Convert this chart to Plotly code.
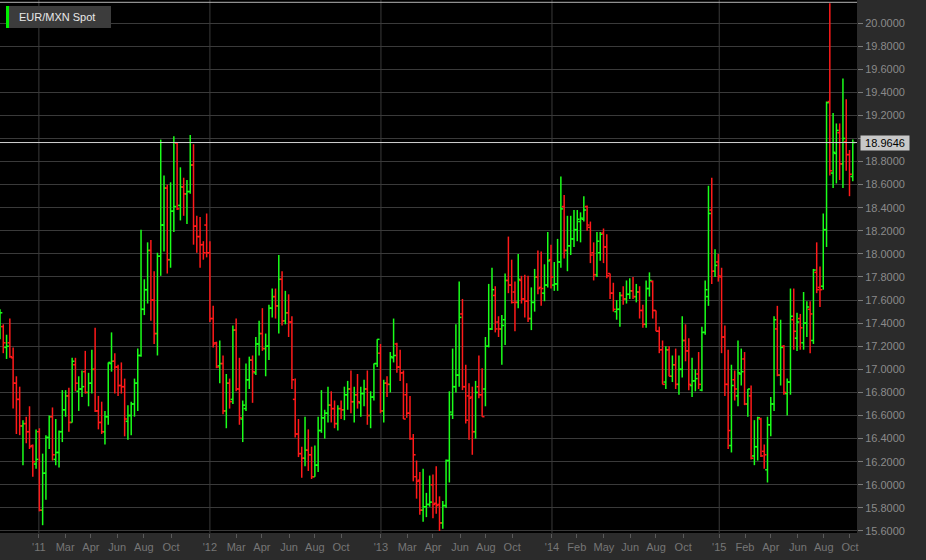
import pandas as pd
import plotly.graph_objects as go

# ---------------- data (weekly EUR/MXN spot) ----------------
start_date = "2010-10-08"

open_ = [
17.30,17.37,17.19,17.23,17.10,16.88,16.74,16.51,16.53,16.46,
16.34,16.18,16.46,15.78,16.10,16.41,16.59,16.22,16.28,16.46,
16.65,16.77,16.54,17.04,16.81,16.83,16.98,16.80,16.88,17.00,
16.64,16.54,16.46,16.59,17.05,17.07,17.02,16.86,16.85,16.55,
16.60,16.70,16.88,17.12,17.52,17.69,18.03,17.60,17.31,17.98,
18.25,18.57,17.95,18.37,18.96,18.42,18.58,18.52,18.54,18.77,
18.24,18.15,18.08,18.25,18.01,17.44,17.23,17.03,17.05,16.64,
16.88,16.74,17.34,16.83,16.57,16.66,16.91,17.08,16.97,17.22,
17.31,17.18,17.20,17.53,17.63,17.55,17.78,17.42,17.49,17.41,
16.74,16.44,16.27,16.23,16.30,16.26,16.07,16.17,16.47,16.58,
16.62,16.69,16.66,16.53,16.66,16.65,16.78,16.83,16.72,16.78,
16.71,16.79,16.83,16.60,16.76,17.05,17.14,16.64,16.88,16.87,
17.10,17.22,17.02,16.97,16.78,16.62,16.40,16.07,16.04,15.78,
15.81,15.83,16.00,15.84,15.83,15.67,15.82,16.21,16.61,16.85,
16.95,17.48,16.85,16.77,16.76,16.46,16.85,16.78,16.83,17.20,
17.35,17.64,17.41,17.35,17.43,17.77,17.73,17.67,17.58,17.77,
17.61,17.59,17.44,17.58,17.80,17.71,17.66,17.73,17.95,17.73,
17.74,17.93,18.41,18.03,18.07,18.13,18.21,18.28,18.30,18.41,
18.23,18.01,17.82,18.01,18.18,18.06,17.83,17.66,17.50,17.52,
17.64,17.61,17.65,17.68,17.63,17.67,17.51,17.39,17.70,17.76,
17.51,17.33,17.17,16.89,17.17,16.94,17.04,16.87,17.00,17.25,
17.16,16.86,16.90,16.96,16.82,17.32,17.63,18.38,17.85,17.93,
17.80,17.28,16.87,16.34,16.91,16.77,16.96,17.09,16.70,16.77,
16.25,16.33,16.57,16.29,16.13,16.52,16.70,17.35,16.95,17.20,
16.79,16.89,17.43,17.27,17.44,17.23,17.40,17.52,17.25,17.84,
17.71,17.72,18.21,19.32,18.70,18.87,19.05,18.78,18.97,18.86,
18.67]

high = [
17.52,17.39,17.30,17.44,17.19,16.94,16.85,16.56,16.59,16.68,
16.35,16.48,16.49,16.27,16.43,16.60,16.67,16.57,16.47,16.82,
16.82,16.84,17.10,17.10,16.94,16.99,17.16,16.97,17.17,17.36,
16.77,16.72,16.64,17.06,17.32,17.14,17.04,17.06,16.92,16.69,
16.72,16.92,17.18,18.21,17.78,18.10,18.12,17.85,18.01,18.99,
18.68,18.60,18.62,19.02,18.97,18.75,18.66,18.64,19.03,18.95,
18.33,18.32,18.11,18.35,18.11,17.55,17.24,17.25,17.12,16.96,
16.92,17.38,17.44,17.10,16.73,17.05,17.11,17.12,17.28,17.42,
17.53,17.31,17.56,17.70,17.70,17.99,17.85,17.68,17.65,17.46,
16.92,16.57,16.33,16.59,16.48,16.33,16.34,16.59,16.82,16.65,
16.85,16.81,16.73,16.69,16.73,16.85,16.90,16.99,16.85,16.96,
16.85,16.91,16.99,16.81,17.05,17.26,17.22,16.91,16.94,17.15,
17.44,17.23,17.17,16.99,16.88,16.77,16.44,16.21,16.11,16.14,
15.93,16.08,16.09,16.16,15.90,15.86,16.22,16.81,17.18,17.39,
17.76,17.61,17.04,16.88,16.85,16.90,17.12,17.01,17.28,17.74,
17.88,17.72,17.46,17.47,17.83,18.15,17.95,17.76,18.00,17.81,
17.82,17.81,17.71,17.87,18.03,18.02,17.91,18.19,18.08,17.93,
18.13,18.67,18.51,18.33,18.33,18.38,18.38,18.36,18.50,18.42,
18.28,18.10,18.19,18.19,18.22,18.17,17.83,17.75,17.60,17.67,
17.72,17.77,17.79,17.80,17.74,17.72,17.56,17.77,17.84,17.77,
17.51,17.37,17.25,17.20,17.20,17.12,17.18,17.12,17.46,17.39,
17.27,17.10,17.00,17.15,17.37,17.77,18.59,18.66,18.04,18.00,
17.88,17.38,17.17,17.04,16.99,17.25,17.18,17.15,16.83,16.86,
16.56,16.59,16.58,16.35,16.59,16.76,17.46,17.55,17.43,17.21,
16.92,17.70,17.70,17.49,17.48,17.67,17.59,17.59,17.87,18.10,
17.89,18.35,19.32,20.17,19.22,19.13,19.13,19.52,19.34,18.90,
18.99]

low = [
17.26,17.14,17.09,17.10,16.66,16.44,16.43,16.17,16.36,16.31,
16.07,16.14,15.77,15.65,15.87,16.31,16.21,16.17,16.15,16.37,
16.59,16.46,16.54,16.81,16.64,16.76,16.79,16.68,16.79,16.63,
16.48,16.44,16.35,16.52,16.98,16.79,16.77,16.79,16.42,16.39,
16.43,16.59,16.64,17.11,17.47,17.57,17.42,17.22,17.12,17.81,
18.02,17.83,17.88,18.19,18.38,18.29,18.33,18.26,18.52,18.08,
18.01,17.88,17.95,17.97,17.41,17.19,17.01,16.88,16.61,16.49,
16.66,16.70,16.81,16.52,16.37,16.64,16.83,16.71,16.95,17.12,
17.16,16.94,17.08,17.45,17.44,17.31,17.38,17.39,17.28,16.83,
16.41,16.24,16.06,16.16,16.12,16.05,16.07,16.11,16.45,16.40,
16.54,16.54,16.49,16.47,16.57,16.56,16.65,16.62,16.54,16.66,
16.59,16.68,16.52,16.49,16.73,17.02,16.62,16.54,16.76,16.80,
17.06,16.97,16.90,16.57,16.58,16.39,16.03,15.88,15.74,15.68,
15.72,15.81,15.71,15.75,15.60,15.62,15.80,16.02,16.57,16.80,
16.85,16.82,16.53,16.39,16.26,16.40,16.75,16.59,16.68,17.19,
17.34,17.32,17.28,17.04,17.21,17.66,17.57,17.33,17.53,17.57,
17.45,17.41,17.34,17.50,17.65,17.55,17.59,17.71,17.70,17.68,
17.68,17.88,17.96,17.85,17.99,18.06,18.11,18.10,18.28,18.20,
17.92,17.77,17.80,17.94,17.92,17.79,17.61,17.50,17.43,17.37,
17.56,17.57,17.61,17.61,17.58,17.44,17.36,17.36,17.63,17.44,
17.33,17.14,16.87,16.83,16.94,16.89,16.83,16.78,16.93,17.07,
16.82,16.76,16.81,16.83,16.81,17.30,17.55,17.74,17.80,17.76,
17.14,16.77,16.31,16.28,16.73,16.68,16.86,16.69,16.59,16.22,
16.17,16.21,16.24,16.14,16.02,16.42,16.64,16.94,16.86,16.78,
16.60,16.78,17.17,17.16,17.17,17.17,17.28,17.14,17.22,17.66,
17.54,17.69,18.06,18.68,18.57,18.61,18.64,18.57,18.72,18.50,
18.63]

close_ = [
17.49,17.23,17.20,17.11,16.88,16.74,16.51,16.53,16.46,16.33,
16.20,16.22,15.78,16.10,16.41,16.59,16.26,16.28,16.46,16.65,
16.77,16.54,17.07,16.88,16.83,16.85,16.80,16.88,17.00,16.64,
16.54,16.46,16.59,17.06,17.07,17.02,16.86,16.85,16.57,16.60,
16.70,16.88,17.12,17.52,17.69,18.03,17.60,17.31,17.98,18.25,
18.57,17.95,18.37,18.41,18.39,18.58,18.52,18.54,18.77,18.24,
18.15,18.08,18.01,18.01,17.44,17.22,17.02,17.05,16.64,16.88,
16.72,17.34,16.83,16.58,16.69,16.91,17.08,16.98,17.22,17.31,
17.18,17.20,17.53,17.63,17.55,17.78,17.42,17.49,17.41,16.91,
16.44,16.27,16.23,16.30,16.26,16.07,16.17,16.47,16.58,16.62,
16.69,16.66,16.53,16.66,16.65,16.78,16.83,16.72,16.78,16.72,
16.79,16.83,16.60,16.76,17.05,17.26,16.64,16.88,16.87,17.11,
17.12,17.02,16.97,16.57,16.62,16.40,16.26,16.03,15.78,15.81,
15.83,15.85,15.83,15.82,15.67,15.82,16.21,16.63,16.85,16.95,
17.45,16.85,16.56,16.75,16.46,16.80,16.78,16.59,17.20,17.35,
17.69,17.35,17.35,17.38,17.77,17.73,17.58,17.58,17.78,17.61,
17.59,17.44,17.58,17.80,17.70,17.70,17.73,17.94,17.80,17.74,
17.93,18.39,18.03,18.07,18.13,18.21,18.30,18.31,18.38,18.25,
17.99,17.82,18.11,18.17,18.06,17.81,17.66,17.52,17.52,17.64,
17.61,17.65,17.68,17.63,17.67,17.51,17.39,17.70,17.77,17.51,
17.33,17.17,16.87,17.17,16.94,17.04,16.87,17.00,17.25,17.16,
16.87,16.90,16.92,16.87,17.32,17.69,18.35,17.85,17.90,17.81,
17.28,16.87,16.47,16.86,16.83,16.97,16.98,16.70,16.83,16.23,
16.33,16.58,16.25,16.26,16.52,16.70,17.43,16.95,17.19,16.80,
16.89,17.46,17.33,17.41,17.36,17.40,17.54,17.48,17.86,17.69,
17.69,18.21,19.31,18.72,18.88,19.07,18.78,19.00,18.86,18.69,
18.9646]

tick_dates = [
"2010-12-30","2011-02-24","2011-04-20","2011-06-15","2011-08-11","2011-10-08",
"2011-12-30","2012-02-24","2012-04-19","2012-06-16","2012-08-10","2012-10-05",
"2012-12-29","2013-02-23","2013-04-19","2013-06-16","2013-08-10","2013-10-05",
"2013-12-29","2014-02-20","2014-04-19","2014-06-14","2014-08-08","2014-10-05",
"2014-12-21","2015-02-14","2015-04-10","2015-06-07","2015-08-01","2015-09-26"]
tick_labels = [
"'11","Mar","Apr","Jun","Aug","Oct",
"'12","Mar","Apr","Jun","Aug","Oct",
"'13","Mar","Apr","Jun","Aug","Oct",
"'14","Feb","May","Jun","Aug","Oct",
"'15","Feb","Apr","Jun","Aug","Oct"]

y_ticks = [15.6,15.8,16.0,16.2,16.4,16.6,16.8,17.0,17.2,17.4,17.6,17.8,
           18.0,18.2,18.4,18.6,18.8,19.0,19.2,19.4,19.6,19.8,20.0]

series_name = "EUR/MXN Spot"
UP, DOWN = "#1aff1a", "#ff1a1a"

# ---------------- build figure ----------------
n = len(close_)
assert len(open_) == n and len(high) == n and len(low) == n
dates = pd.date_range(start_date, periods=n, freq="7D")
half = pd.Timedelta(days=5)
last = close_[-1]


def fmt(d):
    return d.strftime("%Y-%m-%d %H:%M")


def segments(up):
    xs, ys = [], []
    for d, o, h, l, c in zip(dates, open_, high, low, close_):
        if (c >= o) != up:
            continue
        xs += [fmt(d), fmt(d), None, fmt(d - half), fmt(d), None, fmt(d), fmt(d + half), None]
        ys += [l, h, None, o, o, None, c, c, None]
    return xs, ys


fig = go.Figure()
for up, col in ((True, UP), (False, DOWN)):
    xs, ys = segments(up)
    fig.add_trace(go.Scatter(x=xs, y=ys, mode="lines", line=dict(color=col, width=1.5),
                             hoverinfo="skip", showlegend=False))

W, H = 926, 560
ML, MR, MT, MB = 0, 69, 0, 27
PW, PH = W - ML - MR, H - MT - MB

grid = "#3a3a3a"
font_family = "Liberation Sans, Arial, sans-serif"

# vertical gridlines at year ticks
shapes = []
for d, lab in zip(tick_dates, tick_labels):
    if lab.startswith("'"):
        shapes.append(dict(type="line", xref="x", yref="paper", x0=d, x1=d, y0=0, y1=1,
                           line=dict(color=grid, width=1), layer="below"))

# top border line
shapes.append(dict(type="line", xref="paper", yref="paper", x0=0, x1=1,
                   y0=1 - 2.3 / PH, y1=1 - 2.3 / PH, line=dict(color="#b4b4b4", width=1)))
# last price line
shapes.append(dict(type="line", xref="paper", yref="y", x0=0, x1=1, y0=last, y1=last,
                   line=dict(color="#d2d2d2", width=1)))
# legend box
shapes.append(dict(type="rect", xref="paper", yref="paper", x0=6 / PW, x1=111 / PW,
                   y0=1 - 28 / PH, y1=1 - 6 / PH, fillcolor="#3c3c3c", line=dict(width=0)))
shapes.append(dict(type="rect", xref="paper", yref="paper", x0=6 / PW, x1=9 / PW,
                   y0=1 - 28 / PH, y1=1 - 6 / PH, fillcolor="#00ee00", line=dict(width=0)))

annotations = [
    dict(xref="paper", yref="paper", x=17 / PW, y=1 - 17 / PH, xanchor="left", yanchor="middle",
         text=series_name, showarrow=False, font=dict(family=font_family, size=11, color="#e8e8e8")),
    dict(xref="paper", yref="y", x=1, y=last, xanchor="left", yanchor="middle", xshift=3,
         text=f"{last:.4f}", showarrow=False, bgcolor="#c8c8c8", borderpad=1, width=46,
         font=dict(family=font_family, size=11, color="#000000")),
]

# the last-price box covers the tick label next to it (as in the reference)
y_text = ["" if abs(v - last) < 0.1 else f"{v:.4f}" for v in y_ticks]

fig.update_layout(
    width=W, height=H,
    margin=dict(l=ML, r=MR, t=MT, b=MB, pad=0),
    paper_bgcolor="#2b2b2b", plot_bgcolor="#000000",
    showlegend=False,
    shapes=shapes, annotations=annotations,
    xaxis=dict(type="date", range=["2010-10-08", "2015-10-11"],
               tickmode="array", tickvals=tick_dates, ticktext=tick_labels,
               showgrid=False, zeroline=False, showline=False,
               ticks="outside", ticklen=4, tickcolor="#5a5a5a",
               tickfont=dict(family=font_family, size=11, color="#767676")),
    yaxis=dict(side="right", range=[15.5825, 20.1992],
               tickmode="array", tickvals=y_ticks, ticktext=y_text,
               showgrid=True, gridcolor=grid, gridwidth=1, zeroline=False,
               ticks="outside", ticklen=5, tickcolor="#7a7a7a",
               tickfont=dict(family=font_family, size=11, color="#8a8a8a")),
)

fig.write_html("out.html", config={"displayModeBar": False, "staticPlot": True},
               post_script="document.body.style.margin='0';document.body.style.overflow='hidden';")
